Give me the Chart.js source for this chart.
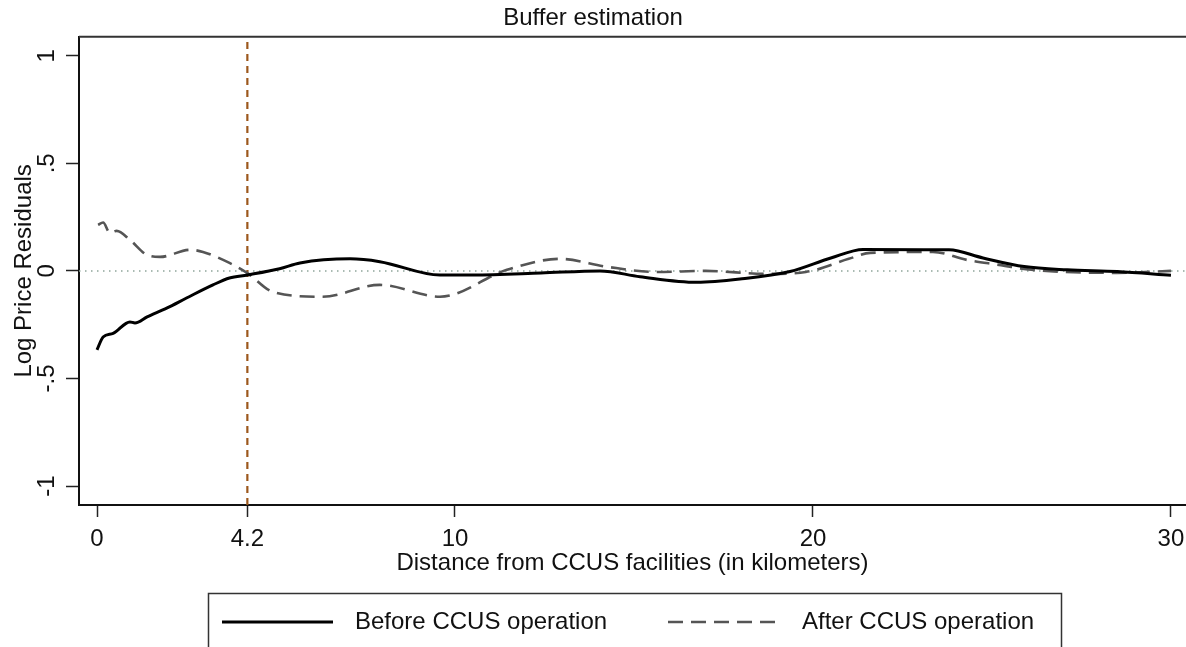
<!DOCTYPE html>
<html lang="en">
<head>
    <meta charset="UTF-8">
    <title>Buffer estimation</title>
    <style>
        html, body { margin: 0; padding: 0; background: #fff; }
        #wrap { width: 1186px; height: 647px; }
    </style>
</head>
<body>
<div id="wrap">
    <canvas id="myChart" width="1186" height="647"></canvas>
</div>
<script src="https://cdn.jsdelivr.net/npm/chart.js"></script>
<script>
    // Log price residuals vs distance (km)
    const beforeKm = [0, 0.17, 0.45, 0.92, 1.06, 1.4, 1.96, 2.5, 3.24, 3.7, 4.2, 5.1, 5.67, 7.07, 7.9, 9.58, 10.5,
        12.4, 14.05, 15.17, 16.76, 17.96, 19.36, 20.5, 21.4, 23.8, 24.75, 25.9, 27.1, 28.5, 30];
    const beforeResid = [-0.367, -0.307, -0.29, -0.237, -0.242, -0.214, -0.172, -0.126, -0.065, -0.033, -0.019, 0.01,
        0.037, 0.056, 0.043, -0.019, -0.019, -0.01, 0, -0.027, -0.053, -0.038, -0.003, 0.06, 0.1, 0.098, 0.06, 0.02,
        0.005, -0.003, -0.02];

    const afterKm = [0.03, 0.17, 0.36, 0.55, 0.92, 1.4, 1.76, 2.6, 2.96, 3.7, 4.2, 4.92, 6.3, 7.9, 9.58, 11.45, 12.93,
        14.25, 15.64, 17.0, 18.7, 19.8, 21.0, 21.6, 23.35, 24.3, 25.2, 26.1, 28.5, 30];
    const afterResid = [0.214, 0.225, 0.177, 0.186, 0.144, 0.074, 0.065, 0.098, 0.088, 0.037, -0.01, -0.098, -0.12,
        -0.065, -0.12, 0.005, 0.056, 0.019, -0.005, 0, -0.014, -0.005, 0.056, 0.084, 0.088, 0.051, 0.028, 0.005,
        -0.009, 0];

    const bufferKm = 4.2;
    const xTicks = [0, 4.2, 10, 20, 30];
    const yTicks = [-1, -0.5, 0, 0.5, 1];
    const xRange = [-0.503, 30.42];
    const yRange = [-1.088, 1.088];

    const seriesNames = ['Before CCUS operation', 'After CCUS operation'];
    const font = "'Liberation Sans', Arial, sans-serif";
    const fontSize = 24;

    const toPoints = (xs, ys) => xs.map((x, i) => ({x: x, y: ys[i]}));

    // box legend + top frame line, drawn like the Stata export
    const frameAndLegend = {
        id: 'frameAndLegend',
        afterDraw(chart) {
            const {ctx, chartArea} = chart;
            ctx.save();
            ctx.strokeStyle = '#333';
            ctx.lineWidth = 2;
            ctx.beginPath();
            ctx.moveTo(chartArea.left, chartArea.top);
            ctx.lineTo(chartArea.right, chartArea.top);
            ctx.stroke();

            ctx.strokeStyle = '#333';
            ctx.lineWidth = 1.5;
            ctx.strokeRect(208.5, 593.5, 853, 70);

            const rowY = 622;
            const items = [
                {ds: chart.data.datasets[0], x0: 222, x1: 333, tx: 355},
                {ds: chart.data.datasets[1], x0: 668, x1: 780, tx: 802}
            ];
            items.forEach(item => {
                ctx.strokeStyle = item.ds.borderColor;
                ctx.lineWidth = item.ds.borderWidth;
                ctx.setLineDash(item.ds.borderDash || []);
                ctx.beginPath();
                ctx.moveTo(item.x0, rowY);
                ctx.lineTo(item.x1, rowY);
                ctx.stroke();
                ctx.setLineDash([]);
                ctx.fillStyle = '#111';
                ctx.font = fontSize + 'px ' + font;
                ctx.textBaseline = 'middle';
                ctx.fillText(item.ds.label, item.tx, rowY);
            });
            ctx.restore();
        }
    };

    const ctx = document.getElementById('myChart');
    new Chart(ctx, {
        type: 'line',
        data: {
            datasets: [{
                label: seriesNames[0],
                data: toPoints(beforeKm, beforeResid),
                borderColor: '#000',
                borderWidth: 3,
                pointRadius: 0,
                cubicInterpolationMode: 'monotone',
                order: 1
            }, {
                label: seriesNames[1],
                data: toPoints(afterKm, afterResid),
                borderColor: '#555',
                borderWidth: 2.6,
                borderDash: [15, 8],
                pointRadius: 0,
                cubicInterpolationMode: 'monotone',
                order: 2
            }, {
                label: 'zero',
                data: toPoints(xRange, [0, 0]),
                borderColor: '#8fa59a',
                borderWidth: 1.5,
                borderDash: [1.5, 4.5],
                pointRadius: 0,
                order: 4
            }, {
                label: 'buffer',
                data: toPoints([bufferKm, bufferKm], yRange),
                borderColor: '#9c571c',
                borderWidth: 2.2,
                borderDash: [7, 5],
                pointRadius: 0,
                order: 3
            }]
        },
        options: {
            responsive: false,
            animation: false,
            layout: {
                padding: {top: 0, right: 0, bottom: 62, left: 0}
            },
            scales: {
                x: {
                    type: 'linear',
                    min: xRange[0],
                    max: xRange[1],
                    afterBuildTicks: scale => {
                        scale.ticks = xTicks.map(v => ({value: v}));
                    },
                    afterFit: scale => {
                        scale.height = 80;
                        scale.paddingLeft = 0;
                        scale.paddingRight = 0;
                    },
                    grid: {
                        drawOnChartArea: false,
                        tickLength: 12,
                        tickColor: '#222',
                        tickWidth: 1.5
                    },
                    border: {color: '#111', width: 2},
                    ticks: {
                        padding: 8,
                        color: '#111',
                        font: {family: font, size: fontSize},
                        callback: value => String(value)
                    },
                    title: {
                        display: true,
                        text: 'Distance from CCUS facilities (in kilometers)',
                        color: '#111',
                        font: {family: font, size: fontSize},
                        padding: {top: 0, bottom: 7}
                    }
                },
                y: {
                    type: 'linear',
                    min: yRange[0],
                    max: yRange[1],
                    afterBuildTicks: scale => {
                        scale.ticks = yTicks.map(v => ({value: v}));
                    },
                    afterFit: scale => {
                        scale.width = 79;
                    },
                    grid: {
                        drawOnChartArea: false,
                        tickLength: 13,
                        tickColor: '#222',
                        tickWidth: 1.5
                    },
                    border: {color: '#111', width: 2},
                    ticks: {
                        padding: 5,
                        minRotation: 90,
                        maxRotation: 90,
                        crossAlign: 'center',
                        color: '#111',
                        font: {family: font, size: fontSize},
                        callback: value => value === 0 ? '0' : String(value).replace('0.', '.')
                    },
                    title: {
                        display: true,
                        text: 'Log Price Residuals',
                        color: '#111',
                        font: {family: font, size: fontSize},
                        padding: {top: 10, bottom: 0}
                    }
                }
            },
            plugins: {
                legend: {display: false},
                tooltip: {enabled: false},
                title: {
                    display: true,
                    text: 'Buffer estimation',
                    color: '#111',
                    font: {family: font, size: fontSize, weight: 'normal'},
                    padding: {top: 4, bottom: 4}
                }
            }
        },
        plugins: [frameAndLegend]
    });
</script>
</body>
</html>
